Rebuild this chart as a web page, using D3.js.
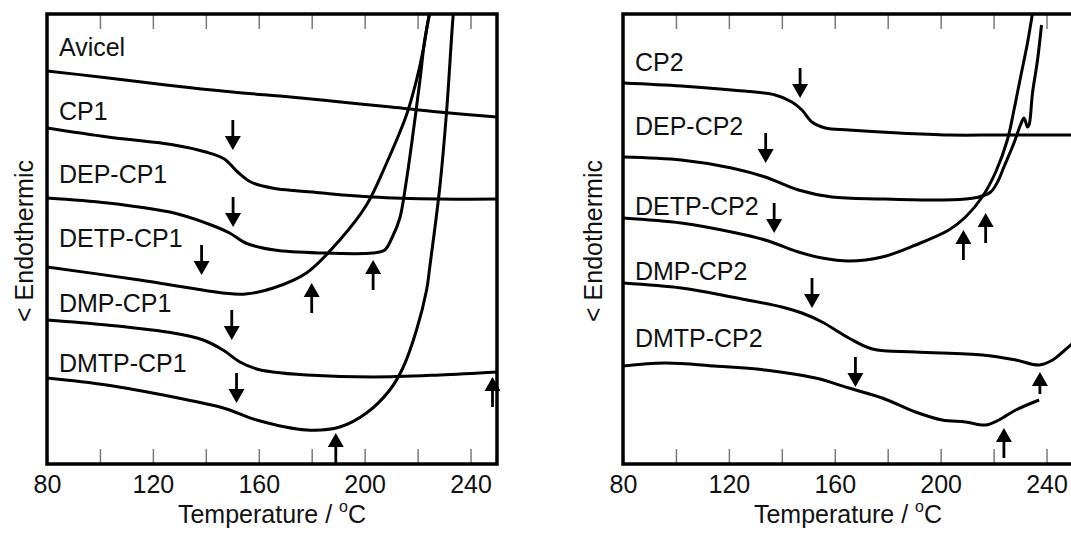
<!DOCTYPE html>
<html>
<head>
<meta charset="utf-8">
<script src="https://cdn.jsdelivr.net/npm/d3@7/dist/d3.min.js"></script>
<style>
  body { margin: 0; background: #fff; }
  text { font-family: "Liberation Sans", Arial, sans-serif; fill: #111; }
</style>
</head>
<body>
<div id="chart"></div>
<script>
// DSC traces: [temperature (°C), heat flow (arb. units, offset)]
const avicel = [[80,393],[100,387],[125,379],[150,372],[172,367],[191,362],[210,357],[228,352],[250,347]];
const cp1 = [[80,336],[103,327],[128,319],[140,312],[147,305],[152,292],[157,282],[165,276],[184,271],[203,267],[228,265],[250,265]];
const depCp1 = [[80,266],[103,261],[128,251],[140,241],[149,231],[155,221],[166,214],[184,211],[203,211],[207.6,214],[210.3,226],[213.3,246],[215.8,284],[218.3,331],[220.9,384],[222.7,424],[224.6,451],[225.5,464]];
const detpCp1 = [[80,197],[115,184],[134,176],[146.5,171],[155,170],[165.5,176],[178,191],[190.6,224],[200.7,259],[208.3,301],[215.8,349],[219.6,384],[222.1,414],[224,444],[225.4,464]];
const dmpCp1 = [[80,144],[102.5,139],[127.7,131],[139,124],[146.5,114],[152.9,102],[159.2,95],[165.3,92],[178.1,89],[203.2,87],[228.4,89],[250,92]];
const dmtpCp1 = [[80,86],[102.5,79],[127.7,67],[146.6,56],[159.2,44],[178.1,34],[190.6,37],[200.7,51],[209.5,74],[214.6,97],[219.6,134],[223.4,174],[224.6,197],[228.4,277],[231,354],[233.4,447],[234.1,464]];

const cp2 = [[80,381],[102,378],[121,374],[137.5,369],[143.8,362],[147.6,354],[151.4,342],[156.4,336],[165.3,334],[184.2,331],[203.2,329],[222,329],[250,329]];
const depCp2 = [[80,307],[102,304],[121,296],[133.7,287],[146.3,274],[158.9,267],[177.9,265],[196.8,264],[209.4,265],[214.5,267],[218.9,272],[221.5,282],[223.9,297],[227.7,321],[230.3,340],[231.5,346],[232.8,337],[233.4,339],[234.7,371],[236.6,404],[238.1,439]];
const detpCp2 = [[80,246],[102,241],[121,232],[133.7,224],[146.3,212],[155.2,206],[165.3,203],[177.9,207],[190.5,219],[203.1,234],[209.4,247],[215.7,267],[220.8,292],[225.2,324],[227.7,354],[230.2,387],[232.8,421],[234.7,451],[235.4,464]];
const dmpCp2 = [[80,181],[102,176],[121,167],[140,157],[147.6,151],[155.2,142],[165.3,126],[174.2,115],[190.5,112],[215.8,109],[228.4,104],[237.2,99],[242.3,104],[246.1,112],[250,121]];
const dmtpCp2 = [[80,98],[95.8,101],[114.7,98],[133.7,94],[152.7,86],[165.3,76],[177.9,66],[190.5,52],[200.6,44],[209.4,42],[216.9,39],[222,44],[228.4,54],[237.2,64]];

// series names and the level (heat flow units) of their label baseline
const leftNames = ["Avicel", "CP1", "DEP-CP1", "DETP-CP1", "DMP-CP1", "DMTP-CP1"];
const leftLabelLevels = [408, 344, 281, 217, 152, 92];
const rightNames = ["CP2", "DEP-CP2", "DETP-CP2", "DMP-CP2", "DMTP-CP2"];
const rightLabelLevels = [393, 329, 249, 184, 117];

// arrow tips [temperature, heat flow, tail end heat flow]
const leftArrowsDown = [[150.2,314,344],[150.3,237,267],[138.4,189,219],[149.8,124,154],[151.6,61,91]];
const leftArrowsUp = [[203.2,204,174],[180,181,151],[248.3,87,57],[189.1,31,1]];
const rightArrowsDown = [[146.9,366,396],[133.9,301,331],[137.1,231,261],[151.4,156,186],[167.8,77,107]];
const rightArrowsUp = [[217,251,221],[208.6,234,204],[237.5,92,70],[223.9,36,6]];

const tickTemps = [100, 120, 140, 160, 180, 200, 220, 240];
const labelTemps = [80, 120, 160, 200, 240];

const W = 1071, H = 538;
const svg = d3.select("#chart").append("svg").attr("width", W).attr("height", H);

function panel(id, left, ylabX, series, names, levels, down, up) {
  const top = 14, w = 450, h = 450;
  const x = d3.scaleLinear().domain([80, 250]).range([0, w]);
  const y = d3.scaleLinear().domain([0, 450]).range([h, 0]);
  const g = svg.append("g").attr("transform", `translate(${left},${top})`);

  g.append("clipPath").attr("id", id).append("rect").attr("width", w).attr("height", h);

  // inward ticks, bottom and top
  const bt = g.append("g").attr("transform", `translate(0,${h})`)
    .call(d3.axisBottom(x).tickValues(tickTemps).tickSize(-15).tickFormat(""));
  const tt = g.append("g")
    .call(d3.axisTop(x).tickValues(tickTemps).tickSize(-15).tickFormat(""));
  [bt, tt].forEach(a => {
    a.select(".domain").remove();
    a.selectAll("line").attr("stroke", "#7a7a7a").attr("stroke-width", 1.5);
  });

  const lab = g.append("g").attr("transform", `translate(0,${h})`)
    .call(d3.axisBottom(x).tickValues(labelTemps).tickSize(0).tickPadding(11));
  lab.select(".domain").remove();
  lab.selectAll("text").attr("font-size", 25).attr("font-family", "Liberation Sans, Arial, sans-serif").attr("fill", "#111");

  const line = d3.line().x(d => x(d[0])).y(d => y(d[1])).curve(d3.curveCatmullRom.alpha(0.5));
  g.append("g").attr("clip-path", `url(#${id})`)
    .selectAll("path").data(series).join("path")
    .attr("d", line).attr("fill", "none").attr("stroke", "#000")
    .attr("stroke-width", 3).attr("stroke-linejoin", "round");

  g.selectAll(".lbl").data(names).join("text").attr("class", "lbl")
    .attr("x", x(84.5)).attr("y", (d, i) => y(levels[i]))
    .attr("font-size", 25).text(d => d);

  // arrows from tail to tip
  function arrow(d) {
    const tx = x(d[0]), ty = y(d[1]), e = y(d[2]);
    const s = Math.sign(e - ty), hh = 14, hw = 8, sw = 1.4;
    const b = ty + s * hh;
    return `M${tx},${ty}L${tx - hw},${b}L${tx - sw},${b}L${tx - sw},${e}L${tx + sw},${e}L${tx + sw},${b}L${tx + hw},${b}Z`;
  }
  g.append("g").selectAll("path").data(down.concat(up)).join("path")
    .attr("d", arrow).attr("fill", "#000");

  g.append("rect").attr("width", w).attr("height", h)
    .attr("fill", "none").attr("stroke", "#000").attr("stroke-width", 3.5);

  const title = g.append("text").attr("x", w / 2).attr("y", h + 59)
    .attr("text-anchor", "middle").attr("font-size", 25);
  title.append("tspan").text("Temperature / ");
  title.append("tspan").attr("font-size", 16).attr("dy", -11).text("o");
  title.append("tspan").attr("dy", 11).text("C");

  svg.append("text").attr("text-anchor", "middle").attr("font-size", 25)
    .attr("transform", `translate(${ylabX},${top + 227}) rotate(-90)`)
    .text("< Endothermic");
}

panel("clipL", 47, 33, [avicel, cp1, depCp1, detpCp1, dmpCp1, dmtpCp1], leftNames, leftLabelLevels, leftArrowsDown, leftArrowsUp);
panel("clipR", 623, 602, [cp2, depCp2, detpCp2, dmpCp2, dmtpCp2], rightNames, rightLabelLevels, rightArrowsDown, rightArrowsUp);
</script>
</body>
</html>
